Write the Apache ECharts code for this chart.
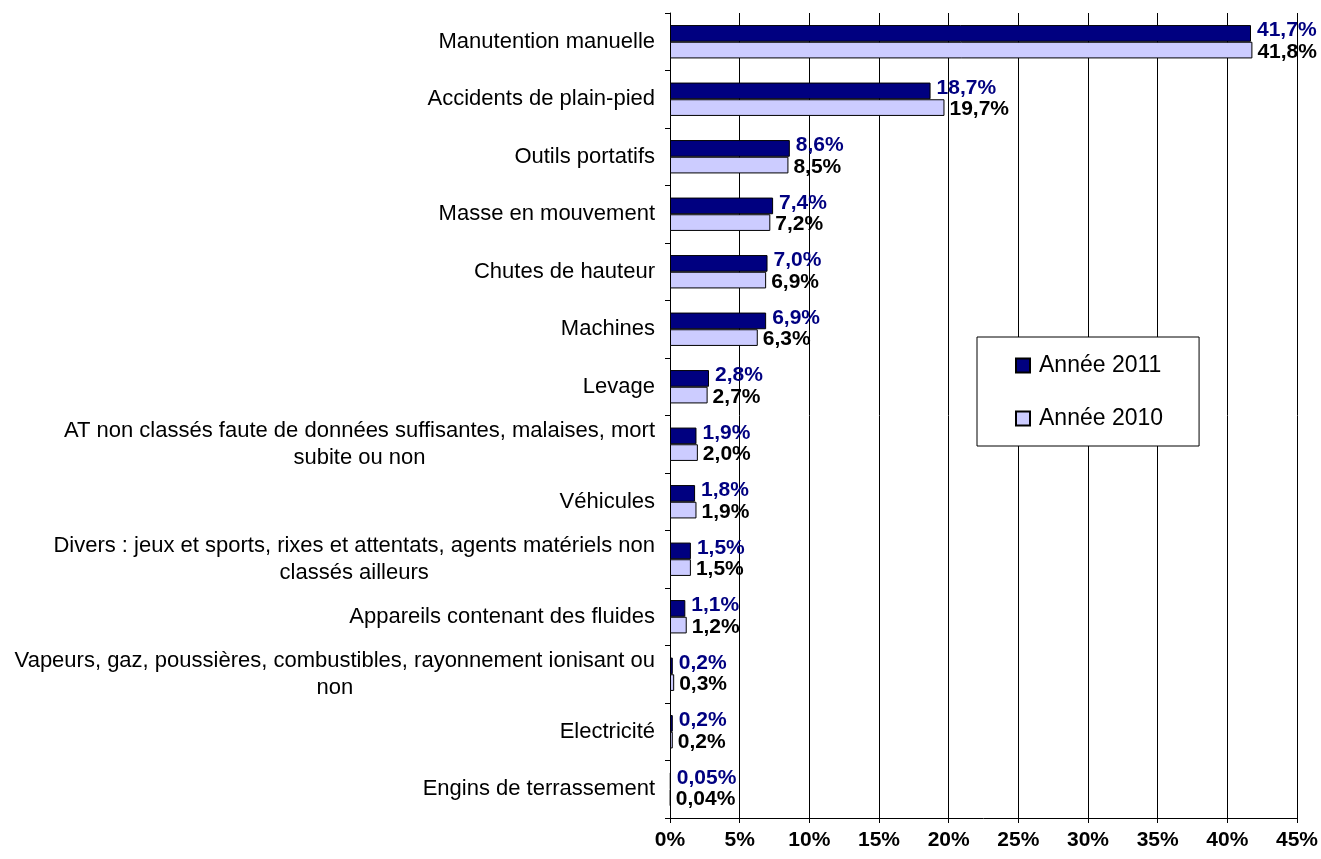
<!DOCTYPE html>
<html lang="fr">
<head>
    <meta charset="UTF-8">
    <title>Accidents du travail par risque</title>
    <script src="https://cdn.jsdelivr.net/npm/echarts@6/dist/echarts.min.js"></script>
    <style>
        html, body {
            margin: 0;
            padding: 0;
            background-color: #ffffff;
        }
        #chart {
            width: 1321px;
            height: 859px;
        }
    </style>
</head>
<body>
    <div id="chart"></div>
    <script>
        // Chart data
        var categories = [
            'Manutention manuelle',
            'Accidents de plain-pied',
            'Outils portatifs',
            'Masse en mouvement',
            'Chutes de hauteur',
            'Machines',
            'Levage',
            'AT non classés faute de données suffisantes, malaises, mort\nsubite ou non',
            'Véhicules',
            'Divers : jeux et sports, rixes et attentats, agents matériels non\nclassés ailleurs',
            'Appareils contenant des fluides',
            'Vapeurs, gaz, poussières, combustibles, rayonnement ionisant ou\nnon',
            'Electricité',
            'Engins de terrassement'
        ];
        var values2011 = [41.7, 18.7, 8.6, 7.4, 7.0, 6.9, 2.8, 1.9, 1.8, 1.5, 1.1, 0.2, 0.2, 0.05];
        var values2010 = [41.8, 19.7, 8.5, 7.2, 6.9, 6.3, 2.7, 2.0, 1.9, 1.5, 1.2, 0.3, 0.2, 0.04];
        var seriesNames = ['Année 2011', 'Année 2010'];

        var FONT = 'Liberation Sans, Arial, sans-serif';

        // French style percent: comma decimal, 2 decimals for tiny values
        function pct(v) {
            var s = v < 0.1 ? v.toFixed(2) : v.toFixed(1);
            return s.replace('.', ',') + '%';
        }

        var chart = echarts.init(document.getElementById('chart'));

        var option = {
            animation: false,
            backgroundColor: '#ffffff',
            grid: {
                left: 670,
                right: 23,
                top: 13,
                bottom: 41
            },
            legend: {
                orient: 'vertical',
                left: 977,
                top: 337,
                padding: [17, 36, 16, 38],
                itemGap: 30,
                itemWidth: 14,
                itemHeight: 14,
                backgroundColor: '#ffffff',
                borderColor: '#000000',
                borderWidth: 1,
                borderRadius: 0,
                textStyle: {
                    fontFamily: FONT,
                    fontSize: 23,
                    color: '#000000',
                    padding: [0, 0, 0, 4]
                },
                data: [
                    { name: seriesNames[0], icon: 'rect' },
                    { name: seriesNames[1], icon: 'rect' }
                ]
            },
            xAxis: {
                type: 'value',
                min: 0,
                max: 45,
                interval: 5,
                axisLine: { show: true, lineStyle: { color: '#000000', width: 1 } },
                axisTick: { show: true, length: 5, lineStyle: { color: '#000000' } },
                splitLine: { show: true, lineStyle: { color: '#000000', width: 1 } },
                axisLabel: {
                    formatter: '{value}%',
                    margin: 12,
                    fontFamily: FONT,
                    fontSize: 21,
                    fontWeight: 'bold',
                    color: '#000000'
                }
            },
            yAxis: {
                type: 'category',
                inverse: true,
                data: categories,
                axisLine: { show: true, lineStyle: { color: '#000000', width: 1 } },
                axisTick: { show: true, length: 5, lineStyle: { color: '#000000' } },
                splitLine: { show: false },
                axisLabel: {
                    margin: 15,
                    align: 'right',
                    // wrapped lines are centred under each other
                    formatter: function (value) {
                        return value.split('\n').map(function (l) {
                            return '{c|' + l + '}';
                        }).join('\n');
                    },
                    rich: {
                        c: {
                            fontFamily: FONT,
                            fontSize: 22,
                            lineHeight: 27,
                            color: '#000000',
                            align: 'center'
                        }
                    }
                }
            },
            series: [
                {
                    name: seriesNames[0],
                    type: 'bar',
                    data: values2011,
                    barGap: '0%',
                    barCategoryGap: '42%',
                    itemStyle: {
                        color: '#000080',
                        borderColor: '#000000',
                        borderWidth: 1
                    },
                    label: {
                        show: true,
                        position: 'right',
                        distance: 6,
                        offset: [0, -3],
                        formatter: function (p) { return pct(p.value); },
                        fontFamily: FONT,
                        fontSize: 21,
                        fontWeight: 'bold',
                        color: '#000080'
                    }
                },
                {
                    name: seriesNames[1],
                    type: 'bar',
                    data: values2010,
                    barGap: '0%',
                    barCategoryGap: '42%',
                    itemStyle: {
                        color: '#ccccff',
                        borderColor: '#000000',
                        borderWidth: 1
                    },
                    label: {
                        show: true,
                        position: 'right',
                        distance: 5,
                        offset: [0, 2],
                        formatter: function (p) { return pct(p.value); },
                        fontFamily: FONT,
                        fontSize: 21,
                        fontWeight: 'bold',
                        color: '#000000'
                    }
                }
            ]
        };

        chart.setOption(option);
    </script>
</body>
</html>
